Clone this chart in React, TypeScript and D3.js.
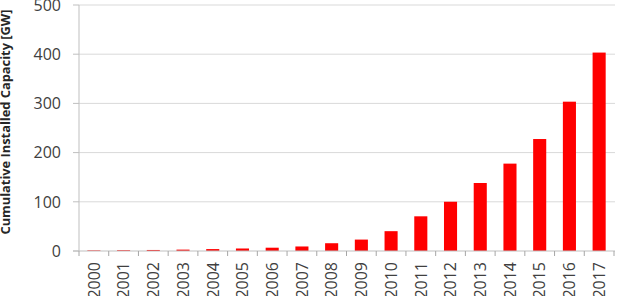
import React from "react";
import * as d3 from "d3";

const years = ["2000","2001","2002","2003","2004","2005","2006","2007","2008","2009","2010","2011","2012","2013","2014","2015","2016","2017"];
const capacity = [1.2, 1.6, 2.1, 2.8, 3.9, 5.1, 6.7, 9.2, 15.8, 23.2, 40.3, 70.5, 100.1, 138.2, 177.6, 227.6, 303.5, 403.3];
const yTicks = [0, 100, 200, 300, 400, 500];
const yTitle = "Cumulative Installed Capacity [GW]";

const W = 619, H = 296;
const left = 79, right = 614, top = 5, bottom = 251;

export default function App() {
  const x = d3.scaleBand<string>().domain(years).range([left, right]).paddingInner(0.56).paddingOuter(0.28);
  const y = d3.scaleLinear().domain([0, 500]).range([bottom, top]);
  const step = x.step();
  const font = "'Open Sans', 'Liberation Sans', sans-serif";
  return (
    <svg width={W} height={H} style={{ position: "absolute", left: 0, top: 0 }} fontFamily={font}>
      <rect width={W} height={H} fill="#fff" />
      {yTicks.map((t) => (
        <g key={t}>
          {t > 0 && <line x1={left} x2={right + 1} y1={y(t)} y2={y(t)} stroke="#d9d9d9" strokeWidth={1} />}
          <line x1={left - 6} x2={left} y1={y(t)} y2={y(t)} stroke="#bfbfbf" strokeWidth={1} />
          <text x={61} y={y(t)} dy="0.36em" textAnchor="end" fontSize={16} fill="#404040">{t}</text>
        </g>
      ))}
      {years.map((yr, i) => (
        <rect key={yr} x={x(yr)} y={y(capacity[i])} width={x.bandwidth()} height={bottom - y(capacity[i])} fill="#ff0000" />
      ))}
      <line x1={left} x2={left} y1={top} y2={bottom} stroke="#bfbfbf" strokeWidth={1} />
      <line x1={left - 6} x2={right + 1} y1={bottom} y2={bottom} stroke="#bfbfbf" strokeWidth={1} />
      {d3.range(years.length + 1).map((i) => (
        <line key={i} x1={left + i * step} x2={left + i * step} y1={bottom} y2={bottom + 5} stroke="#a6a6a6" strokeWidth={1} />
      ))}
      {years.map((yr) => {
        const cx = (x(yr) as number) + x.bandwidth() / 2;
        return (
          <text key={yr} transform={`translate(${cx},262) rotate(-90)`} dy="0.36em" textAnchor="end" fontSize={16} fill="#404040">{yr}</text>
        );
      })}
      <text transform={`translate(10,122) rotate(-90)`} textAnchor="middle" fontSize={13} fontWeight="bold" fill="#262626" textLength={225} lengthAdjust="spacingAndGlyphs">{yTitle}</text>
    </svg>
  );
}
